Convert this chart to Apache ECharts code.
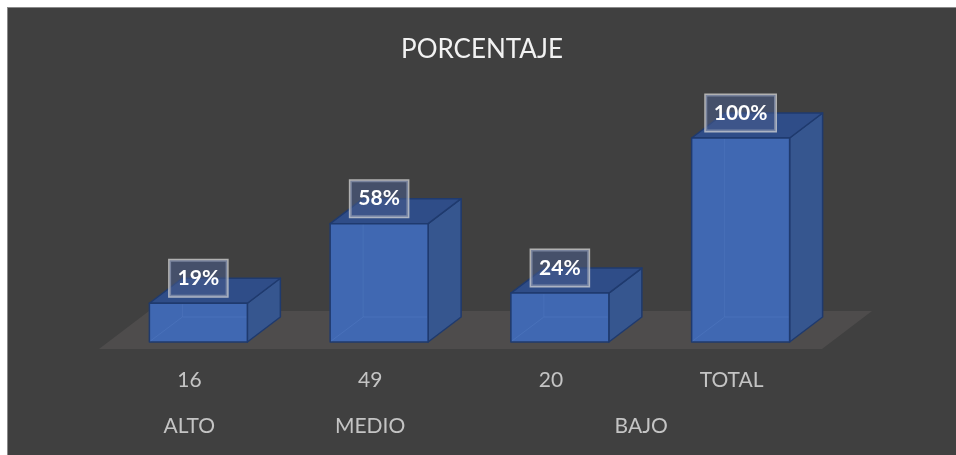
<!DOCTYPE html>
<html>
<head>
<meta charset="utf-8">
<script src="https://cdn.jsdelivr.net/npm/echarts@6/dist/echarts.min.js"></script>
<style>
  html, body { margin: 0; padding: 0; background: #ffffff; }
  #chart {
    position: absolute; left: 7px; top: 7px;
    width: 948px; height: 447px;
    border-left: 1px solid #8a8a8a; border-top: 1px solid #8a8a8a;
    background: #404040;
  }
</style>
</head>
<body>
<div id="chart"></div>
<script>
// counts shown on the first axis row, one per bar
var counts = ['16', '49', '20', 'TOTAL'];
// percentage per bar
var percents = [19, 58, 24, 100];
// group labels on the second axis row and how many bars each one spans
var groupNames = ['ALTO', 'MEDIO', 'BAJO'];
var groupSpans = [1, 1, 2];

var groupCenters = [];
var pos = 0;
groupSpans.forEach(function (n) {
  groupCenters.push(pos + (n - 1) / 2);
  pos += n;
});

// 3d look
var FRONT = [9, -7];    // front face pushed back from floor edge
var DEPTH = [33, -25];  // bar depth
var FLOOR = [50, -38];  // floor depth

var myChart = echarts.init(document.getElementById('chart'));

function renderFloor(params, api) {
  var cs = params.coordSys;
  var x0 = cs.x, x1 = cs.x + cs.width, y = cs.y + cs.height;
  return {
    type: 'polygon',
    silent: true,
    shape: { points: [[x0, y], [x1, y], [x1 + FLOOR[0], y + FLOOR[1]], [x0 + FLOOR[0], y + FLOOR[1]]] },
    style: { fill: '#4e4c4c' }
  };
}

function renderBar(params, api) {
  var i = api.value(0), v = api.value(1);
  var base = api.coord([i, 0]);
  var top = api.coord([i, v]);
  var bw = api.size([1, 0])[0] * 0.542;
  var fx = base[0] + FRONT[0] - bw / 2;
  var fb = base[1] + FRONT[1];
  var ft = top[1] + FRONT[1];
  var dx = DEPTH[0], dy = DEPTH[1];
  var edge = { stroke: '#1f3a6e', lineWidth: 1.5, lineJoin: 'round' };
  return {
    type: 'group',
    children: [
      { // side
        type: 'polygon',
        shape: { points: [[fx + bw, ft], [fx + bw + dx, ft + dy], [fx + bw + dx, fb + dy], [fx + bw, fb]] },
        style: Object.assign({ fill: '#36568f' }, edge)
      },
      { // top
        type: 'polygon',
        shape: { points: [[fx, ft], [fx + bw, ft], [fx + bw + dx, ft + dy], [fx + dx, ft + dy]] },
        style: Object.assign({ fill: '#2f4d88' }, edge)
      },
      { // front
        type: 'rect',
        shape: { x: fx, y: ft, width: bw, height: fb - ft },
        style: Object.assign({ fill: '#4068b2' }, edge)
      },
      { // hidden back edges, seen through
        type: 'polyline',
        shape: { points: [[fx + 1, fb - 1], [fx + dx, fb + dy], [fx + bw - 1, fb + dy]] },
        style: { stroke: 'rgba(90,130,200,0.35)', lineWidth: 1, fill: null }
      },
      {
        type: 'line',
        shape: { x1: fx + dx, y1: fb + dy, x2: fx + dx, y2: ft + 1 },
        style: { stroke: 'rgba(90,130,200,0.3)', lineWidth: 1 }
      },
      { // data label
        type: 'text',
        z2: 10,
        x: fx + bw / 2,
        y: ft - 25,
        style: {
          text: v + '%',
          fill: '#ffffff',
          font: 'bold 21px Lato',
          align: 'center',
          verticalAlign: 'middle',
          backgroundColor: 'rgba(72,92,140,0.55)',
          borderColor: 'rgba(215,215,215,0.75)',
          borderWidth: 1.5,
          padding: [8, 8, 7, 8]
        }
      }
    ]
  };
}

var option = {
  animation: false,
  backgroundColor: '#404040',
  title: {
    text: 'PORCENTAJE',
    left: 'center',
    top: 29,
    padding: [0, 0, 0, 10],
    textStyle: { color: '#f2f2f2', fontFamily: 'Lato', fontSize: 26, fontWeight: 'normal' }
  },
  grid: { left: 91, right: 134, top: 137, bottom: 106 },
  xAxis: [
    {
      type: 'category',
      data: counts,
      axisLine: { show: false },
      axisTick: { show: false },
      axisLabel: { color: '#c4c4c4', fontFamily: 'Lato', fontSize: 21, margin: 21 }
    },
    {
      type: 'value',
      min: -0.5,
      max: 3.5,
      position: 'bottom',
      offset: 46,
      axisLine: { show: false },
      axisTick: { show: false },
      splitLine: { show: false },
      axisLabel: {
        customValues: groupCenters,
        color: '#c4c4c4', fontFamily: 'Lato', fontSize: 21, margin: 21,
        formatter: function (val) {
          var k = groupCenters.indexOf(val);
          return k >= 0 ? groupNames[k] : '';
        }
      }
    }
  ],
  yAxis: {
    type: 'value',
    min: 0,
    max: 100,
    show: false,
    splitLine: { show: false }
  },
  series: [
    {
      type: 'custom',
      z: 1,
      silent: true,
      renderItem: renderFloor,
      data: [[0, 0]]
    },
    {
      type: 'custom',
      z: 2,
      renderItem: renderBar,
      encode: { x: 0, y: 1 },
      data: percents.map(function (p, i) { return [i, p]; })
    }
  ]
};

myChart.setOption(option);
</script>
</body>
</html>
